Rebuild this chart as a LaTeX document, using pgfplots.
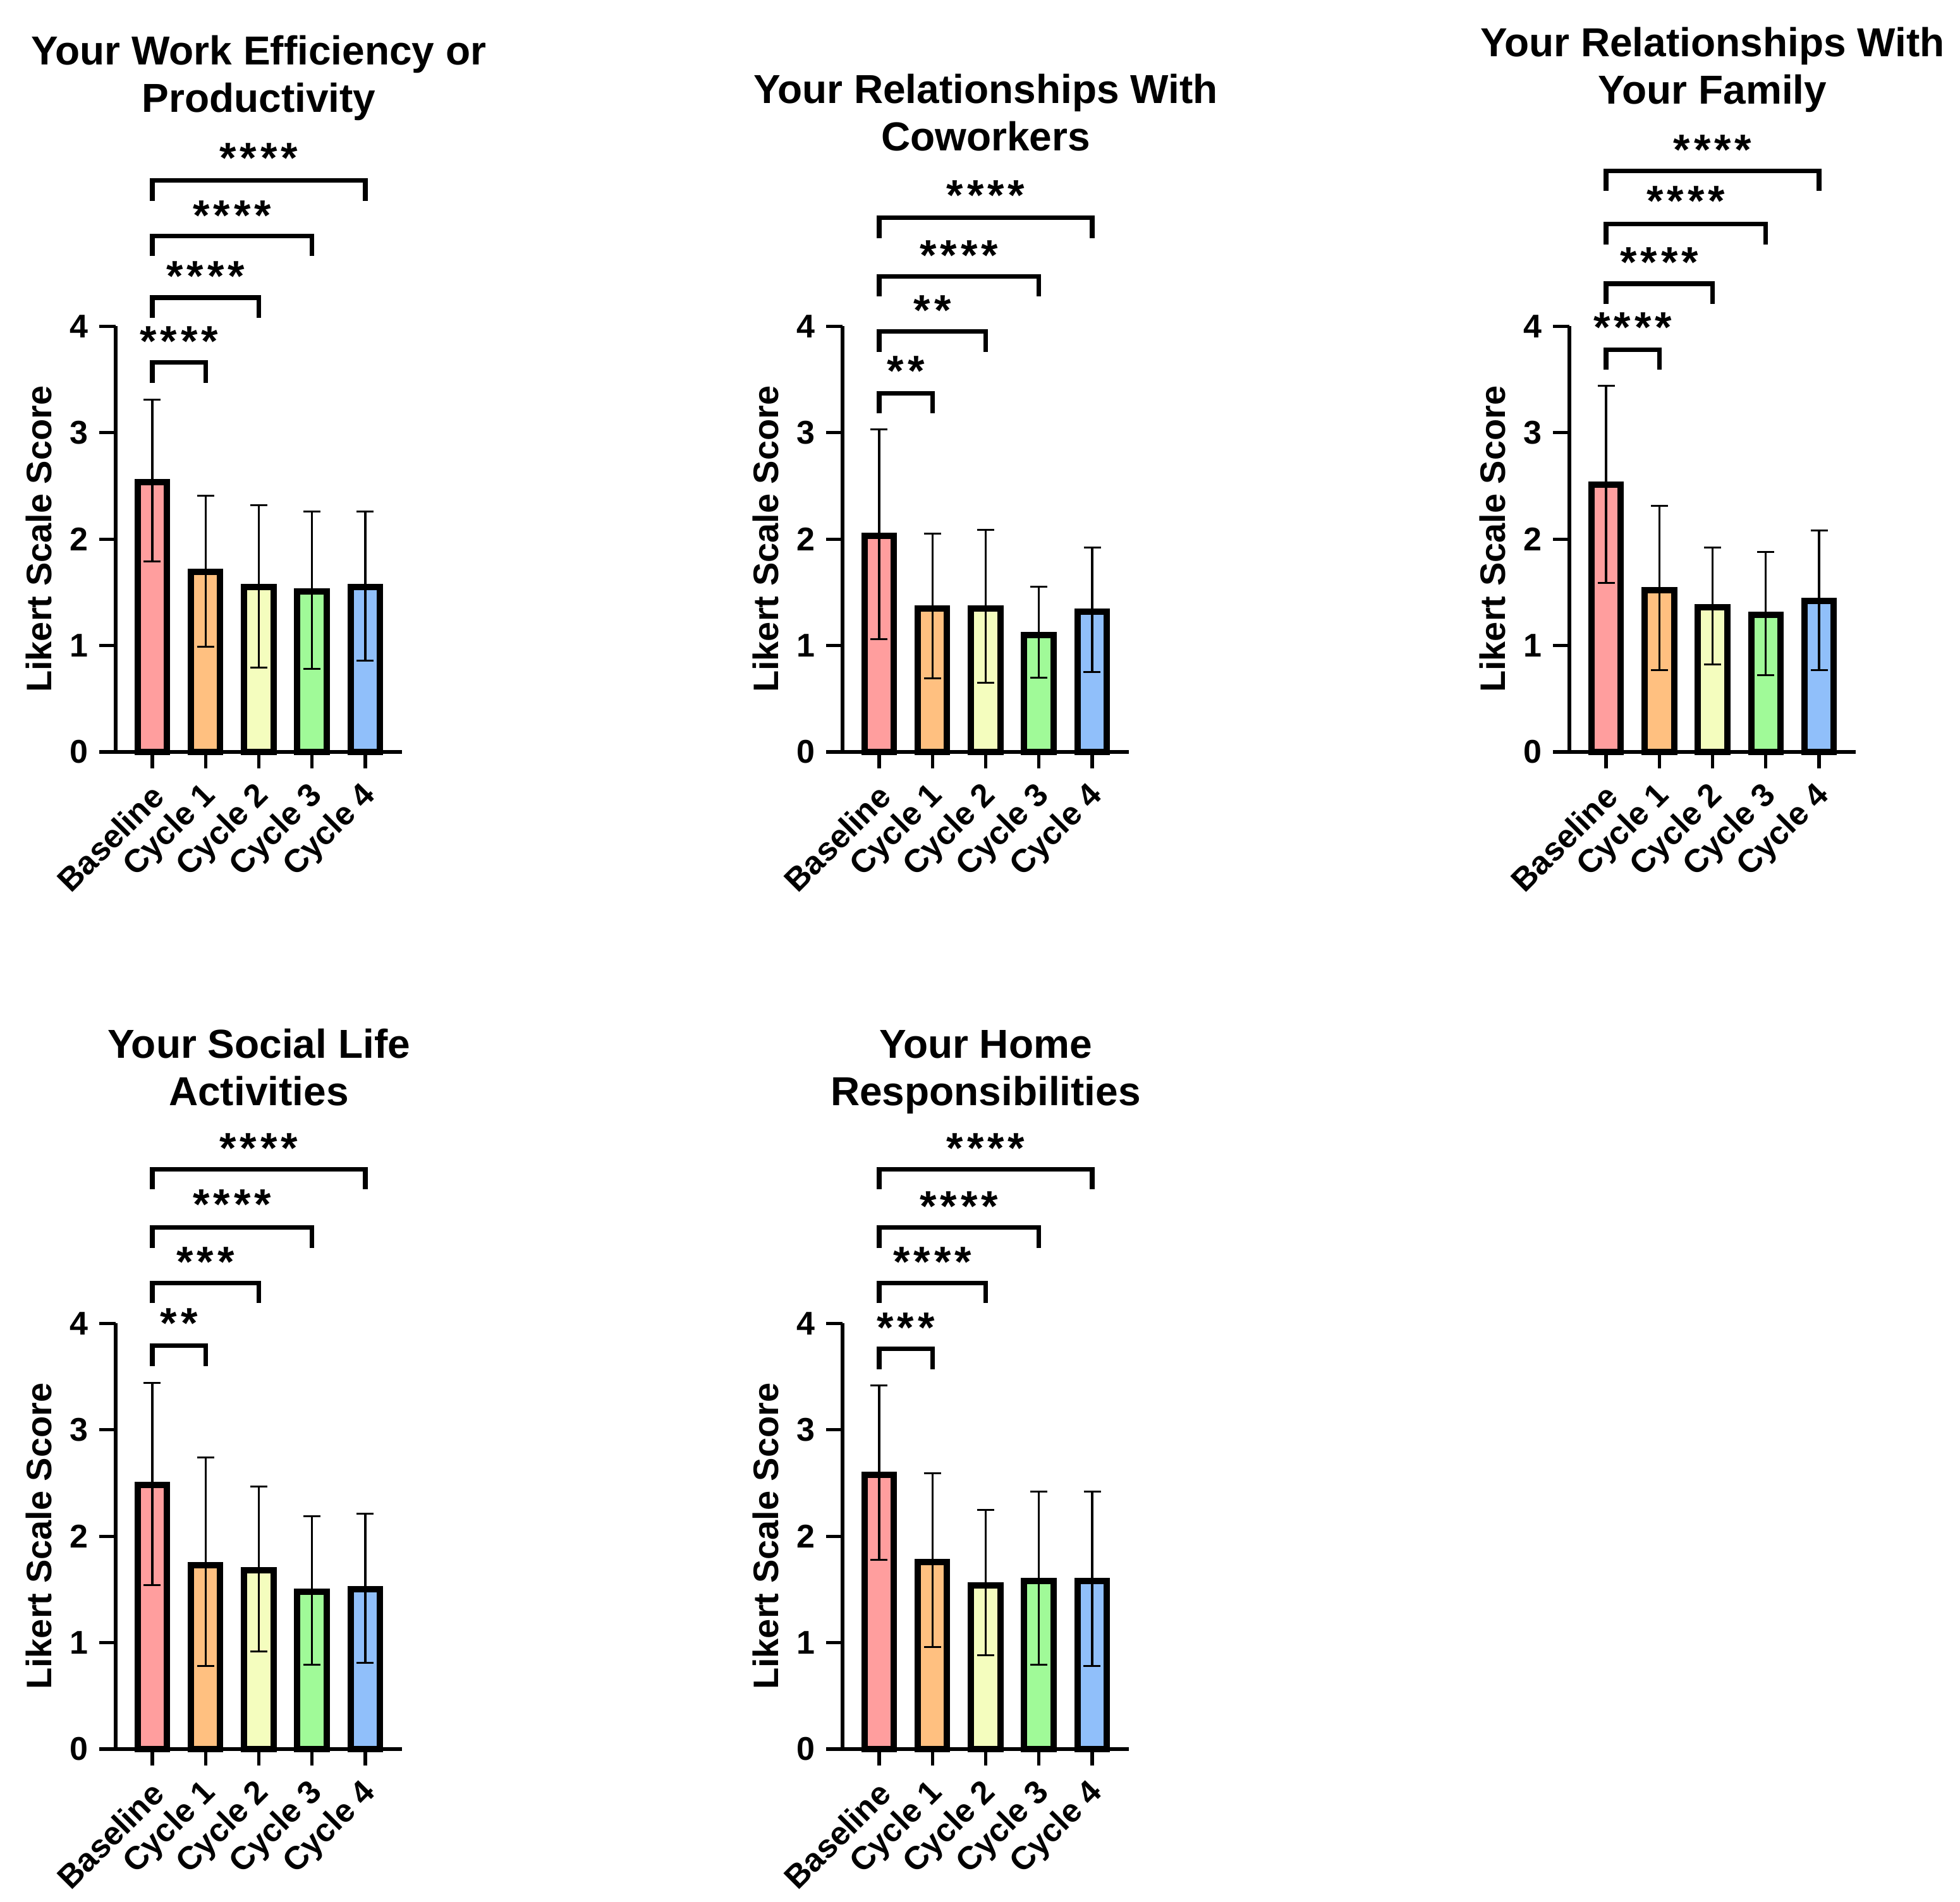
\documentclass[border=0pt]{standalone}
\usepackage{fontspec}
\setmainfont{Liberation Sans}
\usepackage{pgfplots}
\pgfplotsset{compat=1.18}
\definecolor{cB}{HTML}{FF9E9E}
\definecolor{cA}{HTML}{FFC080}
\definecolor{cC}{HTML}{F4FDBE}
\definecolor{cD}{HTML}{A0FA98}
\definecolor{cE}{HTML}{90BFFA}
\def\sk{\kern1.2pt}
\newcommand{\brk}[4]{%
  \draw[line width=1.45pt] (axis cs:0,#2-0.19) -- (axis cs:0,#2) -- (axis cs:#1,#2) -- (axis cs:#1,#2-0.19);
  \node[anchor=base, yshift=-6.4pt, font=\fontsize{13.6}{14}\selectfont\bfseries, inner sep=0pt] at (axis cs:#1/2,#3) {#4};
}
\newcommand{\ttl}[4]{%
  \node[anchor=base, inner sep=0pt, font=\fontsize{12.8}{15}\selectfont\bfseries] at (axis cs:2,#1) {#2};
  \node[anchor=base, inner sep=0pt, font=\fontsize{12.8}{15}\selectfont\bfseries] at (axis cs:2,#3) {#4};
}
\newcommand{\ylab}{%
  \node[rotate=90, anchor=center, inner sep=0pt, font=\fontsize{11.2}{14}\selectfont\bfseries] at ([xshift=-24.3pt]rel axis cs:0,0.5) {Likert Scale Score};
}
\pgfplotsset{
 bb/.style={ybar, bar width=9.3pt, bar shift=0pt, fill=#1, draw=black, line width=2pt},
 panel/.style={
  anchor=south west,
  x=16.85pt, y=33.68pt,
  xmin=-0.688, xmax=4.688, ymin=0, ymax=4,
  axis x line*=bottom, axis y line*=left,
  axis line style={line width=1.05pt, black},
  xtick={0,1,2,3,4},
  xticklabels={Baseline,Cycle 1,Cycle 2,Cycle 3,Cycle 4},
  ytick={0,1,2,3,4},
  yticklabels={0,1,2,3,4},
  tick align=outside,
  major tick length=5.2pt,
  tick style={line width=1.05pt, black},
  yticklabel style={font=\fontsize{10.4}{12}\selectfont\bfseries},
  xticklabel style={font=\fontsize{10.3}{12}\selectfont\bfseries, xshift=1.8pt, yshift=-7pt, rotate=45, anchor=east, inner sep=0pt},
  clip=false,
  every axis plot/.append style={
     /pgfplots/error bars/y dir=both, /pgfplots/error bars/y explicit,
     /pgfplots/error bars/error bar style={line width=0.65pt, black},
     /pgfplots/error bars/error mark options={rotate=90, mark size=2.7pt, line width=0.6pt, black}},
 }
}
\begin{document}
\begin{tikzpicture}
\useasboundingbox (0,0) rectangle (620.2pt,601.8pt);
% Panel 1
\begin{axis}[panel, at={(36.6pt,363.8pt)}]
\addplot[bb=cB] coordinates {(0,2.535) += (0,0.775) -= (0,0.745)};
\addplot[bb=cA] coordinates {(1,1.69) += (0,0.72) -= (0,0.70)};
\addplot[bb=cC] coordinates {(2,1.55) += (0,0.77) -= (0,0.76)};
\addplot[bb=cD] coordinates {(3,1.51) += (0,0.75) -= (0,0.73)};
\addplot[bb=cE] coordinates {(4,1.55) += (0,0.71) -= (0,0.69)};
\brk{1}{3.66}{3.91}{*\sk*\sk*\sk*}
\brk{2}{4.27}{4.52}{*\sk*\sk*\sk*}
\brk{3}{4.85}{5.09}{*\sk*\sk*\sk*}
\brk{4}{5.37}{5.63}{*\sk*\sk*\sk*}
\ttl{6.455}{Your Work Efficiency or}{6.01}{Productivity}
\ylab
\end{axis}
% Panel 2
\begin{axis}[panel, at={(266.6pt,363.8pt)}]
\addplot[bb=cB] coordinates {(0,2.03) += (0,1.00) -= (0,0.97)};
\addplot[bb=cA] coordinates {(1,1.35) += (0,0.70) -= (0,0.66)};
\addplot[bb=cC] coordinates {(2,1.35) += (0,0.74) -= (0,0.70)};
\addplot[bb=cD] coordinates {(3,1.10) += (0,0.45) -= (0,0.40)};
\addplot[bb=cE] coordinates {(4,1.32) += (0,0.60) -= (0,0.57)};
\brk{1}{3.37}{3.63}{*\sk*}
\brk{2}{3.95}{4.20}{*\sk*}
\brk{3}{4.47}{4.72}{*\sk*\sk*\sk*}
\brk{4}{5.02}{5.28}{*\sk*\sk*\sk*}
\ttl{6.095}{Your Relationships With}{5.65}{Coworkers}
\ylab
\end{axis}
% Panel 3
\begin{axis}[panel, at={(496.6pt,363.8pt)}]
\addplot[bb=cB] coordinates {(0,2.51) += (0,0.93) -= (0,0.92)};
\addplot[bb=cA] coordinates {(1,1.52) += (0,0.79) -= (0,0.75)};
\addplot[bb=cC] coordinates {(2,1.36) += (0,0.56) -= (0,0.54)};
\addplot[bb=cD] coordinates {(3,1.29) += (0,0.59) -= (0,0.57)};
\addplot[bb=cE] coordinates {(4,1.42) += (0,0.66) -= (0,0.65)};
\brk{1}{3.78}{4.04}{*\sk*\sk*\sk*}
\brk{2}{4.40}{4.65}{*\sk*\sk*\sk*}
\brk{3}{4.96}{5.23}{*\sk*\sk*\sk*}
\brk{4}{5.46}{5.71}{*\sk*\sk*\sk*}
\ttl{6.535}{Your Relationships With}{6.09}{Your Family}
\ylab
\end{axis}
% Panel 4
\begin{axis}[panel, at={(36.6pt,48.2pt)}]
\addplot[bb=cB] coordinates {(0,2.48) += (0,0.96) -= (0,0.94)};
\addplot[bb=cA] coordinates {(1,1.73) += (0,1.01) -= (0,0.95)};
\addplot[bb=cC] coordinates {(2,1.68) += (0,0.79) -= (0,0.76)};
\addplot[bb=cD] coordinates {(3,1.48) += (0,0.71) -= (0,0.69)};
\addplot[bb=cE] coordinates {(4,1.50) += (0,0.71) -= (0,0.69)};
\brk{1}{3.79}{4.05}{*\sk*}
\brk{2}{4.38}{4.63}{*\sk*\sk*}
\brk{3}{4.90}{5.17}{*\sk*\sk*\sk*}
\brk{4}{5.45}{5.70}{*\sk*\sk*\sk*}
\ttl{6.495}{Your Social Life}{6.05}{Activities}
\ylab
\end{axis}
% Panel 5
\begin{axis}[panel, at={(266.6pt,48.2pt)}]
\addplot[bb=cB] coordinates {(0,2.58) += (0,0.84) -= (0,0.80)};
\addplot[bb=cA] coordinates {(1,1.76) += (0,0.83) -= (0,0.80)};
\addplot[bb=cC] coordinates {(2,1.54) += (0,0.71) -= (0,0.66)};
\addplot[bb=cD] coordinates {(3,1.58) += (0,0.84) -= (0,0.79)};
\addplot[bb=cE] coordinates {(4,1.58) += (0,0.84) -= (0,0.80)};
\brk{1}{3.76}{4.01}{*\sk*\sk*}
\brk{2}{4.38}{4.63}{*\sk*\sk*\sk*}
\brk{3}{4.90}{5.15}{*\sk*\sk*\sk*}
\brk{4}{5.45}{5.70}{*\sk*\sk*\sk*}
\ttl{6.495}{Your Home}{6.05}{Responsibilities}
\ylab
\end{axis}
\end{tikzpicture}
\end{document}
